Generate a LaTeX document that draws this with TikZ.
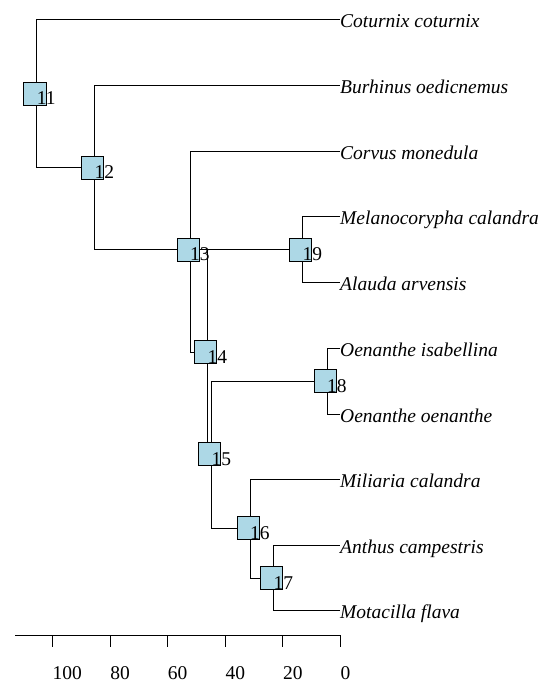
\documentclass[tikz,border=0pt]{standalone}
\usepackage{fontspec}
\setmainfont{Liberation Serif}
\begin{document}
\begin{tikzpicture}[x=1pt,y=-1pt,
  edge/.style={draw=black,line width=1pt},
  treebox/.style={draw=black,line width=1pt,fill=lightblue,minimum size=22.3pt,inner sep=0pt,xshift=-1.7pt},
  numlabel/.style={anchor=base west,inner sep=0pt,font=\fontsize{19.5}{23}\selectfont},
  leaflabel/.style={anchor=west,inner sep=0pt,text height=20pt,text depth=4pt,font=\fontsize{19.5}{23}\selectfont\itshape},
  axislabel/.style={anchor=base west,inner sep=0pt,font=\fontsize{19.5}{23}\selectfont}]
\definecolor{lightblue}{RGB}{173,216,230}
\useasboundingbox (0,0) rectangle (546,684);
% internal node points
\coordinate (p11) at (36.7,94);
\coordinate (p12) at (94.3,168);
\coordinate (p13) at (190,250);
\coordinate (p19) at (302.3,250);
\coordinate (p14) at (207.3,352);
\coordinate (p15) at (211.3,454);
\coordinate (p18) at (327,381);
\coordinate (p16) at (250,528);
\coordinate (p17) at (273.3,578);
% leaves
\node[leaflabel] (cot) at (340,20) {Coturnix coturnix};
\node[leaflabel] (bur) at (340,85.6) {Burhinus oedicnemus};
\node[leaflabel] (cor) at (340,151.3) {Corvus monedula};
\node[leaflabel] (mel) at (340,216.6) {Melanocorypha calandra};
\node[leaflabel] (ala) at (340,282.2) {Alauda arvensis};
\node[leaflabel] (ois) at (340,348.3) {Oenanthe isabellina};
\node[leaflabel] (ooe) at (340,414) {Oenanthe oenanthe};
\node[leaflabel] (mil) at (340,479.7) {Miliaria calandra};
\node[leaflabel] (ant) at (340,545) {Anthus campestris};
\node[leaflabel] (mot) at (340,610.7) {Motacilla flava};
% edges
\draw[edge] (p11) |- (cot.west);
\draw[edge] (p11) |- (p12);
\draw[edge] (p12) |- (bur.west);
\draw[edge] (p12) |- (p13);
\draw[edge] (p13) |- (cor.west);
\draw[edge] (p13) -- (p19);
\draw[edge] (p13) |- (p14);
\draw[edge] (p19) |- (mel.west);
\draw[edge] (p19) |- (ala.west);
\draw[edge] (p14) |- (p13);
\draw[edge] (p14) |- (p15);
\draw[edge] (p15) |- (p18);
\draw[edge] (p15) |- (p16);
\draw[edge] (p18) |- (ois.west);
\draw[edge] (p18) |- (ooe.west);
\draw[edge] (p16) |- (mil.west);
\draw[edge] (p16) |- (p17);
\draw[edge] (p17) |- (ant.west);
\draw[edge] (p17) |- (mot.west);
% boxes and numbers
\foreach \n in {11,12,13,19,14,15,18,16,17}{
  \node[treebox] (b\n) at (p\n) {};
  \node[numlabel] (t\n) at ([yshift=-11pt]p\n) {\n};
}
% axis
\coordinate (axl) at (15,635);
\coordinate (axr) at (340.7,635);
\draw[edge] (axl) -- (axr);
\foreach \v/\xx in {0/340.5,20/282.9,40/225.3,60/167.7,80/110.1,100/52.5}{
  \coordinate (tk\v) at (\xx,635);
  \draw[edge] (tk\v) -- ++(0,12.3);
  \node[axislabel] (al\v) at (\xx,679.5) {\v};
}
\end{tikzpicture}
\end{document}
